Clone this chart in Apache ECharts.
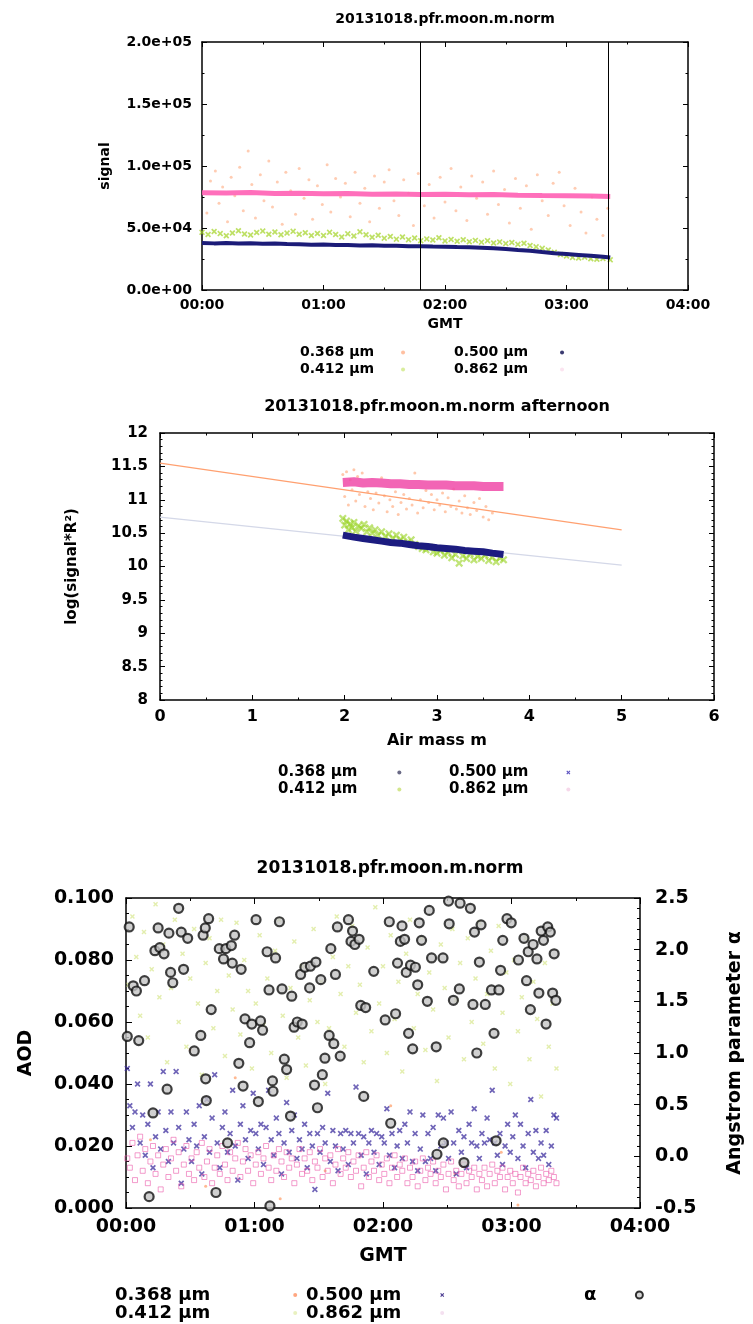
<!DOCTYPE html>
<html>
<head>
<meta charset="utf-8">
<script src="https://cdn.jsdelivr.net/npm/echarts/dist/echarts.min.js"></script>
<style>
  html, body { margin: 0; padding: 0; background: #fff; }
  #main { width: 753px; height: 1324px; }
</style>
</head>
<body>
<div id="main"></div>
<script>
// ---------- data ----------
var wavelengths = ['0.368 μm', '0.412 μm', '0.500 μm', '0.862 μm'];

// panel 1: signal vs GMT (hours)
var cutTimes = [1.80, 3.34];
var sig368 = [[0.04,62000],[0.07,88000],[0.11,96000],[0.14,70000],[0.17,83000],[0.21,55000],[0.24,91000],[0.27,76000],[0.31,99000],[0.34,64000],[0.38,112000],[0.41,85000],[0.44,58000],[0.48,93000],[0.51,72000],[0.55,104000],[0.58,67000],[0.62,87000],[0.66,53000],[0.69,95000],[0.73,80000],[0.77,61000],[0.80,98000],[0.84,74000],[0.88,89000],[0.91,57000],[0.95,84000],[0.99,69000],[1.03,101000],[1.06,63000],[1.10,90000],[1.14,75000],[1.18,86000],[1.22,59000],[1.26,95000],[1.30,70000],[1.34,82000],[1.38,55000],[1.42,92000],[1.46,66000],[1.50,87000],[1.54,97000],[1.58,72000],[1.62,60000],[1.66,89000],[1.70,78000],[1.74,52000],[1.78,94000],[1.83,68000],[1.87,85000],[1.91,58000],[1.96,91000],[2.00,71000],[2.05,98000],[2.09,64000],[2.13,83000],[2.18,56000],[2.22,92000],[2.26,74000],[2.31,87000],[2.35,61000],[2.40,96000],[2.44,69000],[2.49,81000],[2.53,54000],[2.58,90000],[2.62,66000],[2.67,84000],[2.71,49000],[2.76,93000],[2.80,72000],[2.85,60000],[2.89,86000],[2.94,95000],[2.98,68000],[3.03,52000],[3.07,82000],[3.12,63000],[3.16,46000],[3.21,75000],[3.25,57000],[3.30,44000],[3.34,66000]];
var sig412 = [[0.00,46500],[0.05,44800],[0.10,47200],[0.15,45500],[0.20,43800],[0.25,46000],[0.30,47800],[0.35,45200],[0.40,44300],[0.45,46400],[0.50,47500],[0.55,45000],[0.60,46800],[0.65,44600],[0.70,45900],[0.75,47300],[0.80,44900],[0.85,46200],[0.90,44000],[0.95,45600],[1.00,43900],[1.05,46500],[1.10,44700],[1.15,42800],[1.20,45300],[1.25,43600],[1.30,46900],[1.35,44500],[1.40,42600],[1.45,44200],[1.50,41800],[1.55,43200],[1.60,41000],[1.65,42700],[1.70,40600],[1.75,41900],[1.80,39800],[1.85,41200],[1.90,40300],[1.95,42100],[2.00,39600],[2.05,40800],[2.10,39300],[2.15,40500],[2.20,38900],[2.25,40000],[2.30,38600],[2.35,39800],[2.40,37900],[2.45,38800],[2.50,37400],[2.55,38300],[2.60,36800],[2.65,37700],[2.70,35900],[2.75,34800],[2.80,33600],[2.85,32300],[2.90,30500],[2.95,28600],[3.00,27400],[3.05,26300],[3.10,25800],[3.15,26500],[3.20,25200],[3.25,24800],[3.30,25400],[3.36,24300]];
var sig500 = [[0,38000],[0.1,37600],[0.2,37900],[0.3,37500],[0.4,37800],[0.5,37300],[0.6,37500],[0.7,37000],[0.8,36800],[0.9,36400],[1.0,36600],[1.1,36200],[1.2,36300],[1.3,35900],[1.4,36000],[1.5,35600],[1.6,35700],[1.7,35300],[1.8,35200],[1.9,35000],[2.0,34900],[2.1,34600],[2.2,34400],[2.3,34000],[2.4,33600],[2.5,33000],[2.6,32300],[2.7,31700],[2.8,30600],[2.9,29600],[3.0,29000],[3.1,28300],[3.2,27600],[3.3,26900],[3.36,26200]];
var sig862 = [[0,78500],[0.2,78200],[0.4,78600],[0.6,77900],[0.8,78100],[1.0,77600],[1.2,77800],[1.4,77300],[1.6,77500],[1.8,77100],[2.0,77200],[2.2,76800],[2.4,77000],[2.6,76500],[2.8,76200],[3.0,76000],[3.2,75800],[3.36,75500]];

// panel 2: log(signal*R^2) vs air mass
var lang368 = [[1.98,11.38],[2.00,11.05],[2.02,11.42],[2.04,10.92],[2.06,11.3],[2.08,11.15],[2.10,11.45],[2.12,10.98],[2.14,11.35],[2.16,11.08],[2.19,11.4],[2.22,10.9],[2.25,11.12],[2.28,11.02],[2.31,10.85],[2.34,11.1],[2.37,10.95],[2.40,11.33],[2.43,11.06],[2.46,10.82],[2.49,11.0],[2.52,10.9],[2.55,11.12],[2.58,10.78],[2.61,10.96],[2.64,11.08],[2.67,10.86],[2.70,11.02],[2.73,10.92],[2.76,11.4],[2.79,10.8],[2.82,11.0],[2.85,10.88],[2.88,11.14],[2.91,10.96],[2.94,11.08],[2.97,10.85],[3.00,11.0],[3.03,10.92],[3.06,11.1],[3.09,10.82],[3.12,11.03],[3.15,10.9],[3.18,11.16],[3.21,10.86],[3.24,10.98],[3.27,10.8],[3.30,11.06],[3.33,10.88],[3.36,10.78],[3.40,10.96],[3.43,10.84],[3.46,11.02],[3.50,10.74],[3.53,10.9],[3.56,10.7],[3.60,10.8]];
var lang412 = [[1.98,10.72],[2.00,10.62],[2.02,10.68],[2.04,10.55],[2.06,10.64],[2.08,10.58],[2.10,10.66],[2.12,10.53],[2.15,10.61],[2.18,10.57],[2.21,10.63],[2.24,10.52],[2.27,10.58],[2.30,10.5],[2.33,10.55],[2.36,10.47],[2.40,10.52],[2.44,10.45],[2.48,10.49],[2.52,10.42],[2.56,10.47],[2.60,10.4],[2.64,10.44],[2.68,10.36],[2.72,10.4],[2.76,10.33],[2.80,10.3],[2.84,10.27],[2.88,10.25],[2.92,10.29],[2.96,10.22],[3.00,10.2],[3.04,10.24],[3.08,10.17],[3.12,10.21],[3.16,10.13],[3.20,10.18],[3.24,10.05],[3.28,10.16],[3.32,10.12],[3.36,10.19],[3.40,10.1],[3.44,10.15],[3.48,10.12],[3.52,10.17],[3.56,10.09],[3.60,10.14],[3.64,10.07],[3.68,10.13],[3.72,10.1]];
var lang500 = [[1.98,10.47],[2.1,10.44],[2.2,10.42],[2.3,10.4],[2.4,10.38],[2.5,10.36],[2.6,10.35],[2.7,10.33],[2.8,10.31],[2.9,10.3],[3.0,10.28],[3.1,10.27],[3.2,10.26],[3.3,10.24],[3.4,10.23],[3.5,10.22],[3.6,10.2],[3.72,10.18]];
var lang862 = [[1.98,11.26],[2.1,11.27],[2.2,11.25],[2.3,11.26],[2.4,11.25],[2.5,11.24],[2.6,11.24],[2.7,11.23],[2.8,11.23],[2.9,11.22],[3.0,11.22],[3.1,11.22],[3.2,11.21],[3.3,11.21],[3.4,11.21],[3.5,11.2],[3.6,11.2],[3.72,11.2]];
var fit368 = [[0,11.55],[5,10.55]];
var fitGrey = [[0,10.74],[5,10.02]];

// panel 3: AOD (left) and Angstrom alpha (right) vs GMT
var aod368 = [[0.19,0.022],[0.50,0.051],[0.62,0.007],[0.85,0.042],[1.20,0.003],[1.55,0.012],[2.06,0.033],[2.56,0.011],[2.92,0.018],[3.05,0.001]];
var aod412 = [[0.02,0.072],[0.05,0.094],[0.08,0.081],[0.11,0.062],[0.14,0.089],[0.17,0.055],[0.20,0.077],[0.23,0.098],[0.26,0.068],[0.29,0.085],[0.32,0.047],[0.35,0.071],[0.38,0.093],[0.41,0.060],[0.44,0.082],[0.47,0.052],[0.50,0.074],[0.53,0.090],[0.56,0.066],[0.59,0.043],[0.62,0.079],[0.65,0.087],[0.68,0.058],[0.71,0.070],[0.74,0.093],[0.77,0.049],[0.80,0.075],[0.83,0.064],[0.86,0.092],[0.89,0.056],[0.92,0.080],[0.95,0.070],[0.98,0.045],[1.01,0.066],[1.04,0.088],[1.07,0.059],[1.10,0.074],[1.13,0.050],[1.16,0.083],[1.19,0.093],[1.22,0.062],[1.25,0.042],[1.28,0.071],[1.31,0.086],[1.34,0.055],[1.37,0.078],[1.40,0.046],[1.43,0.067],[1.46,0.090],[1.49,0.060],[1.52,0.073],[1.55,0.040],[1.58,0.058],[1.61,0.081],[1.64,0.094],[1.67,0.069],[1.70,0.052],[1.73,0.078],[1.76,0.091],[1.79,0.063],[1.82,0.072],[1.85,0.047],[1.88,0.084],[1.91,0.057],[1.94,0.097],[1.97,0.066],[2.00,0.078],[2.03,0.050],[2.06,0.088],[2.09,0.061],[2.12,0.073],[2.15,0.044],[2.18,0.082],[2.21,0.093],[2.24,0.058],[2.27,0.069],[2.30,0.087],[2.33,0.051],[2.36,0.076],[2.39,0.064],[2.42,0.041],[2.45,0.085],[2.48,0.071],[2.51,0.055],[2.54,0.090],[2.57,0.067],[2.60,0.079],[2.63,0.048],[2.66,0.087],[2.69,0.060],[2.72,0.074],[2.75,0.092],[2.78,0.053],[2.81,0.069],[2.84,0.083],[2.87,0.045],[2.90,0.091],[2.93,0.063],[2.96,0.076],[2.99,0.040],[3.02,0.080],[3.05,0.057],[3.08,0.068],[3.11,0.087],[3.14,0.048],[3.17,0.073],[3.20,0.061],[3.23,0.036],[3.26,0.079],[3.29,0.052],[3.32,0.066],[3.35,0.045]];
var aod500 = [[0.01,0.045],[0.03,0.033],[0.05,0.026],[0.07,0.031],[0.09,0.040],[0.11,0.021],[0.13,0.030],[0.15,0.017],[0.17,0.027],[0.19,0.040],[0.21,0.013],[0.23,0.023],[0.25,0.031],[0.27,0.019],[0.29,0.044],[0.31,0.025],[0.33,0.015],[0.35,0.031],[0.37,0.021],[0.39,0.044],[0.41,0.026],[0.43,0.008],[0.45,0.019],[0.47,0.031],[0.49,0.022],[0.51,0.015],[0.53,0.027],[0.55,0.020],[0.57,0.033],[0.59,0.011],[0.61,0.023],[0.63,0.035],[0.65,0.018],[0.67,0.029],[0.69,0.043],[0.71,0.021],[0.73,0.013],[0.75,0.026],[0.77,0.031],[0.79,0.018],[0.81,0.024],[0.83,0.038],[0.85,0.020],[0.87,0.009],[0.89,0.027],[0.91,0.033],[0.93,0.022],[0.95,0.016],[0.97,0.025],[0.99,0.037],[1.01,0.024],[1.03,0.019],[1.05,0.027],[1.07,0.014],[1.09,0.026],[1.11,0.038],[1.13,0.022],[1.15,0.017],[1.17,0.029],[1.19,0.024],[1.21,0.011],[1.23,0.021],[1.25,0.034],[1.27,0.018],[1.29,0.025],[1.31,0.030],[1.33,0.016],[1.35,0.022],[1.37,0.019],[1.39,0.027],[1.41,0.013],[1.43,0.024],[1.45,0.020],[1.47,0.006],[1.49,0.024],[1.51,0.018],[1.53,0.026],[1.55,0.021],[1.57,0.037],[1.59,0.015],[1.61,0.025],[1.63,0.020],[1.65,0.012],[1.67,0.024],[1.69,0.019],[1.71,0.025],[1.73,0.014],[1.75,0.024],[1.77,0.021],[1.79,0.039],[1.81,0.024],[1.83,0.017],[1.85,0.023],[1.87,0.011],[1.89,0.021],[1.91,0.025],[1.93,0.018],[1.95,0.024],[1.97,0.014],[1.99,0.023],[2.01,0.021],[2.03,0.032],[2.05,0.017],[2.07,0.024],[2.09,0.013],[2.11,0.020],[2.13,0.025],[2.15,0.016],[2.17,0.027],[2.19,0.021],[2.21,0.031],[2.23,0.015],[2.25,0.024],[2.27,0.012],[2.29,0.019],[2.31,0.030],[2.33,0.015],[2.35,0.024],[2.37,0.016],[2.39,0.026],[2.41,0.012],[2.43,0.030],[2.45,0.020],[2.47,0.029],[2.49,0.021],[2.51,0.016],[2.53,0.031],[2.55,0.021],[2.57,0.011],[2.59,0.025],[2.61,0.018],[2.63,0.023],[2.65,0.013],[2.67,0.027],[2.69,0.021],[2.71,0.032],[2.73,0.020],[2.75,0.016],[2.77,0.024],[2.79,0.021],[2.81,0.029],[2.83,0.022],[2.85,0.038],[2.87,0.021],[2.89,0.017],[2.91,0.024],[2.93,0.014],[2.95,0.020],[2.97,0.027],[2.99,0.018],[3.01,0.023],[3.03,0.030],[3.05,0.016],[3.07,0.027],[3.09,0.020],[3.11,0.013],[3.13,0.024],[3.15,0.035],[3.17,0.018],[3.19,0.025],[3.21,0.016],[3.23,0.021],[3.25,0.017],[3.27,0.025],[3.29,0.014],[3.31,0.020],[3.33,0.030],[3.35,0.029]];
var aod862 = [[0.01,0.016],[0.03,0.013],[0.05,0.021],[0.07,0.009],[0.09,0.017],[0.11,0.023],[0.13,0.012],[0.15,0.019],[0.17,0.008],[0.19,0.015],[0.21,0.020],[0.23,0.011],[0.25,0.017],[0.27,0.006],[0.29,0.014],[0.31,0.019],[0.33,0.010],[0.35,0.016],[0.37,0.022],[0.39,0.012],[0.41,0.018],[0.43,0.007],[0.45,0.014],[0.47,0.020],[0.49,0.011],[0.51,0.016],[0.53,0.009],[0.55,0.018],[0.57,0.013],[0.59,0.021],[0.61,0.010],[0.63,0.015],[0.65,0.019],[0.67,0.008],[0.69,0.013],[0.71,0.017],[0.73,0.011],[0.75,0.020],[0.77,0.014],[0.79,0.009],[0.81,0.018],[0.83,0.012],[0.85,0.016],[0.87,0.021],[0.89,0.010],[0.91,0.015],[0.93,0.019],[0.95,0.012],[0.97,0.017],[0.99,0.008],[1.01,0.014],[1.03,0.018],[1.05,0.011],[1.07,0.016],[1.09,0.020],[1.11,0.013],[1.13,0.009],[1.15,0.017],[1.17,0.012],[1.19,0.019],[1.21,0.015],[1.23,0.010],[1.25,0.018],[1.27,0.013],[1.29,0.016],[1.31,0.008],[1.33,0.014],[1.35,0.019],[1.37,0.011],[1.39,0.016],[1.41,0.012],[1.43,0.018],[1.45,0.009],[1.47,0.015],[1.49,0.013],[1.51,0.019],[1.53,0.010],[1.55,0.016],[1.57,0.012],[1.59,0.017],[1.61,0.008],[1.63,0.014],[1.65,0.019],[1.67,0.011],[1.69,0.016],[1.71,0.013],[1.73,0.018],[1.75,0.010],[1.77,0.015],[1.79,0.012],[1.81,0.017],[1.83,0.007],[1.85,0.013],[1.87,0.018],[1.89,0.010],[1.91,0.015],[1.93,0.012],[1.95,0.017],[1.97,0.009],[1.99,0.014],[2.01,0.011],[2.03,0.016],[2.05,0.008],[2.07,0.013],[2.09,0.017],[2.11,0.010],[2.13,0.014],[2.15,0.012],[2.17,0.016],[2.19,0.008],[2.21,0.013],[2.23,0.010],[2.25,0.015],[2.27,0.007],[2.29,0.012],[2.31,0.016],[2.33,0.009],[2.35,0.013],[2.37,0.011],[2.39,0.015],[2.41,0.008],[2.43,0.012],[2.45,0.010],[2.47,0.014],[2.49,0.006],[2.51,0.011],[2.53,0.015],[2.55,0.009],[2.57,0.012],[2.59,0.007],[2.61,0.011],[2.63,0.014],[2.65,0.008],[2.67,0.012],[2.69,0.010],[2.71,0.013],[2.73,0.006],[2.75,0.011],[2.77,0.009],[2.79,0.013],[2.81,0.007],[2.83,0.011],[2.85,0.014],[2.87,0.008],[2.89,0.012],[2.91,0.010],[2.93,0.013],[2.95,0.006],[2.97,0.010],[2.99,0.012],[3.01,0.008],[3.03,0.011],[3.05,0.005],[3.07,0.010],[3.09,0.013],[3.11,0.008],[3.13,0.011],[3.15,0.009],[3.17,0.012],[3.19,0.007],[3.21,0.010],[3.23,0.013],[3.25,0.008],[3.27,0.011],[3.29,0.009],[3.31,0.012],[3.33,0.010],[3.35,0.008]];
var alpha = [[0.01,1.16],[0.025,2.22],[0.056,1.65],[0.081,1.60],[0.099,1.12],[0.144,1.70],[0.18,-0.39],[0.21,0.42],[0.225,1.99],[0.25,2.21],[0.263,2.02],[0.296,1.96],[0.32,0.65],[0.334,2.16],[0.347,1.78],[0.364,1.68],[0.41,2.40],[0.43,2.17],[0.448,1.81],[0.48,2.11],[0.531,1.02],[0.582,1.17],[0.60,2.14],[0.617,2.21],[0.62,0.75],[0.625,0.54],[0.643,2.30],[0.663,1.42],[0.70,-0.35],[0.726,2.01],[0.759,1.91],[0.777,2.01],[0.79,0.13],[0.82,2.04],[0.827,1.87],[0.845,2.14],[0.878,0.90],[0.896,1.81],[0.911,0.68],[0.926,1.33],[0.962,1.10],[0.979,1.28],[1.012,2.29],[1.03,0.53],[1.047,1.31],[1.063,1.22],[1.098,1.98],[1.113,1.61],[1.12,-0.48],[1.14,0.73],[1.144,0.63],[1.164,1.92],[1.194,2.27],[1.214,1.62],[1.232,0.94],[1.25,0.84],[1.28,0.39],[1.29,1.55],[1.308,1.25],[1.333,1.30],[1.359,1.76],[1.371,1.28],[1.392,1.83],[1.429,1.63],[1.435,1.84],[1.467,0.69],[1.478,1.88],[1.49,0.47],[1.516,1.71],[1.528,0.79],[1.548,0.95],[1.581,1.17],[1.594,2.01],[1.617,1.09],[1.63,1.76],[1.645,2.22],[1.667,0.97],[1.731,2.29],[1.751,2.08],[1.763,2.18],[1.781,2.05],[1.814,2.10],[1.827,1.46],[1.85,0.58],[1.865,1.44],[1.928,1.79],[2.017,1.32],[2.049,2.27],[2.06,0.32],[2.098,1.38],[2.113,1.87],[2.135,2.08],[2.148,2.23],[2.168,2.10],[2.181,1.78],[2.199,1.19],[2.214,1.85],[2.231,1.04],[2.252,1.83],[2.27,1.66],[2.282,2.26],[2.30,2.09],[2.345,1.50],[2.36,2.38],[2.378,1.92],[2.414,1.06],[2.42,0.02],[2.467,1.92],[2.47,0.13],[2.51,2.47],[2.515,2.25],[2.548,1.51],[2.594,1.62],[2.60,2.45],[2.63,-0.06],[2.68,2.40],[2.70,1.47],[2.712,2.17],[2.73,1.00],[2.75,1.88],[2.763,2.24],[2.796,1.47],[2.844,1.61],[2.864,1.19],[2.88,0.15],[2.902,1.61],[2.915,1.80],[2.932,2.09],[2.965,2.30],[2.998,2.26],[3.054,1.90],[3.097,2.11],[3.117,1.70],[3.13,1.98],[3.147,1.42],[3.168,2.05],[3.198,1.91],[3.213,1.58],[3.231,2.18],[3.249,2.09],[3.269,1.28],[3.282,2.22],[3.302,2.17],[3.32,1.58],[3.332,1.96],[3.345,1.51]];

// ---------- helpers ----------
var FONT = 'DejaVu Sans';
var CROSS = 'path://M0,2L2,0L5,3L8,0L10,2L7,5L10,8L8,10L5,7L2,10L0,8L3,5Z';

function hhmm(v) { return (v < 10 ? '0' : '') + v + ':00'; }
function sci(v) {
  if (v === 0) return '0.0e+00';
  var e = Math.floor(Math.log10(v));
  var m = v / Math.pow(10, e);
  return m.toFixed(1) + 'e+' + (e < 10 ? '0' : '') + e;
}

function axis(o) {
  return {
    type: 'value', gridIndex: o.grid, position: o.pos,
    min: o.min, max: o.max, interval: o.interval,
    name: o.name || '', nameLocation: 'middle', nameGap: o.nameGap || 0,
    nameRotate: o.nameRotate,
    nameTextStyle: { color: '#000', fontFamily: FONT, fontWeight: 'bold', fontSize: o.nameSize || 14 },
    axisLine: { show: true, onZero: false, lineStyle: { color: '#000', width: 1.5 } },
    axisTick: { show: true, inside: true, length: o.tick || 5, lineStyle: { color: '#000', width: 1 } },
    minorTick: { show: true, splitNumber: o.minor, length: (o.tick || 5) / 2, lineStyle: { color: '#000', width: 1 } },
    splitLine: { show: false }, minorSplitLine: { show: false },
    axisLabel: {
      show: o.labels !== false, color: '#000', fontFamily: FONT, fontWeight: 'bold',
      fontSize: o.size || 14, margin: o.margin || 8, formatter: o.fmt,
      showMinLabel: true, showMaxLabel: true
    }
  };
}

function legendCol(left, top, size, lh, w, items) {
  return {
    left: left, top: top, orient: 'vertical', align: 'right', padding: 0,
    itemGap: 0, itemWidth: w, itemHeight: 4, selectedMode: false,
    textStyle: { color: '#000', fontFamily: FONT, fontWeight: 'bold', fontSize: size, lineHeight: lh },
    data: items
  };
}

var chart = echarts.init(document.getElementById('main'));

var option = {
  animation: false,
  backgroundColor: '#fff',
  textStyle: { fontFamily: FONT },
  title: [
    { text: '20131018.pfr.moon.m.norm', left: 445, top: 12, textAlign: 'center', padding: 0,
      textStyle: { fontFamily: FONT, fontWeight: 'bold', fontSize: 14, color: '#000' } },
    { text: '20131018.pfr.moon.m.norm afternoon', left: 437, top: 399, textAlign: 'center', padding: 0,
      textStyle: { fontFamily: FONT, fontWeight: 'bold', fontSize: 16, color: '#000' } },
    { text: '20131018.pfr.moon.m.norm', left: 390, top: 860, textAlign: 'center', padding: 0,
      textStyle: { fontFamily: FONT, fontWeight: 'bold', fontSize: 17, color: '#000' } }
  ],
  grid: [
    { left: 202, top: 42, width: 486, height: 248 },
    { left: 160, top: 433, width: 554, height: 267 },
    { left: 126, top: 898, width: 527, height: 310 }
  ],
  xAxis: [
    axis({ grid: 0, pos: 'bottom', min: 0, max: 4, interval: 1, minor: 2, fmt: hhmm, margin: 8,
           name: 'GMT', nameGap: 27, nameSize: 14 }),
    axis({ grid: 0, pos: 'top', min: 0, max: 4, interval: 1, minor: 2, labels: false }),
    axis({ grid: 1, pos: 'bottom', min: 0, max: 6, interval: 1, minor: 2, size: 16, margin: 9,
           name: 'Air mass m', nameGap: 33, nameSize: 16 }),
    axis({ grid: 1, pos: 'top', min: 0, max: 6, interval: 1, minor: 2, labels: false }),
    axis({ grid: 2, pos: 'bottom', min: 0, max: 4, interval: 1, minor: 2, fmt: hhmm, size: 19, margin: 10,
           tick: 6, name: 'GMT', nameGap: 39, nameSize: 19 }),
    axis({ grid: 2, pos: 'top', min: 0, max: 4, interval: 1, minor: 2, tick: 6, labels: false })
  ],
  yAxis: [
    axis({ grid: 0, pos: 'left', min: 0, max: 200000, interval: 50000, minor: 2, fmt: sci, margin: 10,
           name: 'signal', nameGap: 90, nameRotate: 90, nameSize: 14 }),
    axis({ grid: 0, pos: 'right', min: 0, max: 200000, interval: 50000, minor: 2, labels: false }),
    axis({ grid: 1, pos: 'left', min: 8, max: 12, interval: 0.5, minor: 5, size: 15, margin: 12,
           name: 'log(signal*R²)', nameGap: 80, nameRotate: 90, nameSize: 15 }),
    axis({ grid: 1, pos: 'right', min: 8, max: 12, interval: 0.5, minor: 5, labels: false }),
    axis({ grid: 2, pos: 'left', min: 0, max: 0.1, interval: 0.02, minor: 4, size: 19, margin: 12, tick: 6,
           fmt: function (v) { return v.toFixed(3); },
           name: 'AOD', nameGap: 90, nameRotate: 90, nameSize: 19 }),
    axis({ grid: 2, pos: 'right', min: -0.5, max: 2.5, interval: 0.5, minor: 5, size: 19, margin: 15, tick: 6,
           fmt: function (v) { return v.toFixed(1); },
           name: 'Angstrom parameter α', nameGap: 86, nameRotate: 90, nameSize: 19 })
  ],
  legend: [
    legendCol(300, 344, 14, 17, 48, [
      { name: wavelengths[0], icon: 'circle', itemStyle: { color: '#ffb08a' } },
      { name: wavelengths[1], icon: 'circle', itemStyle: { color: '#cfe884' } }]),
    legendCol(454, 344, 14, 17, 58, [
      { name: wavelengths[2], icon: 'circle', itemStyle: { color: '#3a3a70' } },
      { name: wavelengths[3], icon: 'circle', itemStyle: { color: '#fbe4f0' } }]),
    legendCol(278, 764, 15, 17, 74, [
      { name: wavelengths[0], icon: 'circle', itemStyle: { color: '#444466' } },
      { name: wavelengths[1], icon: 'circle', itemStyle: { color: '#c8e070' } }]),
    legendCol(449, 764, 15, 17, 70, [
      { name: wavelengths[2], icon: CROSS, itemStyle: { color: '#5a50c0' } },
      { name: wavelengths[3], icon: 'circle', itemStyle: { color: '#f6d8ea' } }]),
    legendCol(115, 1286, 18, 18, 160, [
      { name: wavelengths[0], icon: 'circle', itemStyle: { color: '#ff9060' } },
      { name: wavelengths[1], icon: 'circle', itemStyle: { color: '#e4eeb0' } }]),
    legendCol(306, 1286, 18, 18, 72, [
      { name: wavelengths[2], icon: CROSS, itemStyle: { color: '#4a3a90' } },
      { name: wavelengths[3], icon: 'circle', itemStyle: { color: '#f4e0f0' } }]),
    {
      left: 584, top: 1286, orient: 'vertical', align: 'right', padding: 0, itemWidth: 76, itemHeight: 7,
      selectedMode: false,
      textStyle: { color: '#000', fontFamily: FONT, fontWeight: 'bold', fontSize: 18, lineHeight: 18 },
      data: [{ name: 'α', icon: 'circle', itemStyle: { color: '#ccc', borderColor: '#000', borderWidth: 2 } }]
    }
  ],
  series: [
    // panel 1
    { name: wavelengths[0], type: 'scatter', xAxisIndex: 0, yAxisIndex: 0, data: sig368,
      symbol: 'circle', symbolSize: 3, itemStyle: { color: 'rgba(255,140,80,0.55)' } },
    { name: wavelengths[1], type: 'scatter', xAxisIndex: 0, yAxisIndex: 0, data: sig412,
      symbol: CROSS, symbolSize: 6, itemStyle: { color: 'rgba(160,210,30,0.85)' } },
    { name: wavelengths[2], type: 'line', xAxisIndex: 0, yAxisIndex: 0, data: sig500,
      showSymbol: false, lineStyle: { color: '#1c1c78', width: 4 }, itemStyle: { color: '#1c1c78' },
      markLine: { silent: true, symbol: ['none', 'none'], label: { show: false },
        lineStyle: { color: '#000', width: 1, type: 'solid' },
        data: cutTimes.map(function (t) { return { xAxis: t }; }) } },
    { name: wavelengths[3], type: 'line', xAxisIndex: 0, yAxisIndex: 0, data: sig862,
      showSymbol: false, lineStyle: { color: '#ff5fb4', width: 5, opacity: 0.9 }, itemStyle: { color: '#ff5fb4' } },

    // panel 2
    { name: 'fit 0.368', type: 'line', xAxisIndex: 2, yAxisIndex: 2, data: fit368,
      showSymbol: false, lineStyle: { color: '#ffa070', width: 1.2 } },
    { name: 'fit 0.500', type: 'line', xAxisIndex: 2, yAxisIndex: 2, data: fitGrey,
      showSymbol: false, lineStyle: { color: '#d4d8e8', width: 1.2 } },
    { name: wavelengths[0], type: 'scatter', xAxisIndex: 2, yAxisIndex: 2, data: lang368,
      symbol: 'circle', symbolSize: 3, itemStyle: { color: 'rgba(255,140,80,0.6)' } },
    { name: wavelengths[1], type: 'scatter', xAxisIndex: 2, yAxisIndex: 2, data: lang412,
      symbol: CROSS, symbolSize: 8, itemStyle: { color: 'rgba(150,210,30,0.75)' } },
    { name: wavelengths[2], type: 'line', xAxisIndex: 2, yAxisIndex: 2, data: lang500,
      showSymbol: false, lineStyle: { color: '#1c1c80', width: 7 } },
    { name: wavelengths[3], type: 'line', xAxisIndex: 2, yAxisIndex: 2, data: lang862,
      showSymbol: false, lineStyle: { color: '#f04aa8', width: 9, opacity: 0.85 } },

    // panel 3
    { name: wavelengths[0], type: 'scatter', xAxisIndex: 4, yAxisIndex: 4, data: aod368,
      symbol: 'circle', symbolSize: 3, itemStyle: { color: 'rgba(255,130,60,0.7)' } },
    { name: wavelengths[1], type: 'scatter', xAxisIndex: 4, yAxisIndex: 4, data: aod412,
      symbol: CROSS, symbolSize: 5, itemStyle: { color: 'rgba(205,225,110,0.7)' } },
    { name: wavelengths[2], type: 'scatter', xAxisIndex: 4, yAxisIndex: 4, data: aod500,
      symbol: CROSS, symbolSize: 6, itemStyle: { color: 'rgba(55,40,155,0.9)' } },
    { name: wavelengths[3], type: 'scatter', xAxisIndex: 4, yAxisIndex: 4, data: aod862,
      symbol: 'rect', symbolSize: 5,
      itemStyle: { color: 'rgba(255,255,255,0)', borderColor: 'rgba(235,90,170,0.75)', borderWidth: 1 } },
    { name: 'α', type: 'scatter', xAxisIndex: 4, yAxisIndex: 5, data: alpha,
      symbol: 'circle', symbolSize: 9,
      itemStyle: { color: '#c4c4c4', borderColor: '#111', borderWidth: 2.2 } }
  ]
};

chart.setOption(option);
</script>
</body>
</html>
